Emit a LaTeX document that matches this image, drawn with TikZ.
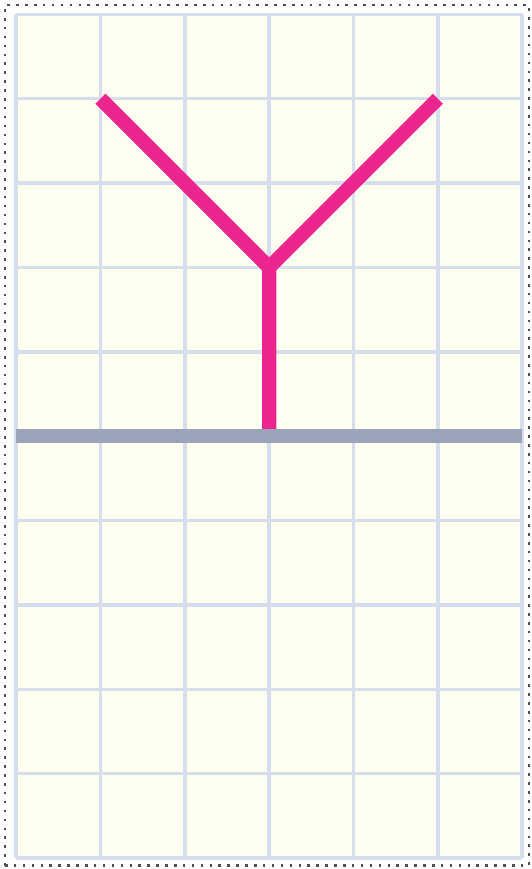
\documentclass[tikz,border=0pt]{standalone}
\usepackage{tikz}
\usetikzlibrary{calc}
\definecolor{PaperCream}{HTML}{FEFEF1}
\definecolor{GridBlue}{HTML}{D6DDEC}
\definecolor{GroundGray}{HTML}{9AA4B8}
\definecolor{StemPink}{HTML}{EC268E}
\definecolor{DotGray}{HTML}{505050}

\begin{document}
\begin{tikzpicture}[
 gridline/.style={draw=GridBlue,line width=1.2pt},
 ground/.style={draw=GroundGray,line width=4.8pt},
 branch/.style={draw=StemPink,line width=4.8pt,line join=miter},
 frame/.style={draw=DotGray,line width=0.85pt,dash pattern=on 0.85pt off 2.15pt}]
\useasboundingbox (-0.19,-0.13) rectangle (6.11,10.17);
\draw[frame] (-0.13,-0.09) rectangle (6.08,10.11);
\fill[PaperCream] (0,0) rectangle (6,10);
\foreach \i in {0,...,6} \draw[gridline] (\i,0) -- (\i,10);
\foreach \j in {0,...,10} \draw[gridline] (0,\j) -- (6,\j);
% the Y shape
\coordinate (base) at (3,5);
\coordinate (fork) at (3,7);
\coordinate (leftTip) at (1,9);
\coordinate (rightTip) at (5,9);
\draw[branch] (base) -- (fork) -- (leftTip);
\draw[branch] (fork) -- (rightTip);
% ground line
\coordinate (groundL) at (0,5);
\coordinate (groundR) at (6,5);
\draw[ground] (groundL) -- (groundR);
\end{tikzpicture}
\end{document}
